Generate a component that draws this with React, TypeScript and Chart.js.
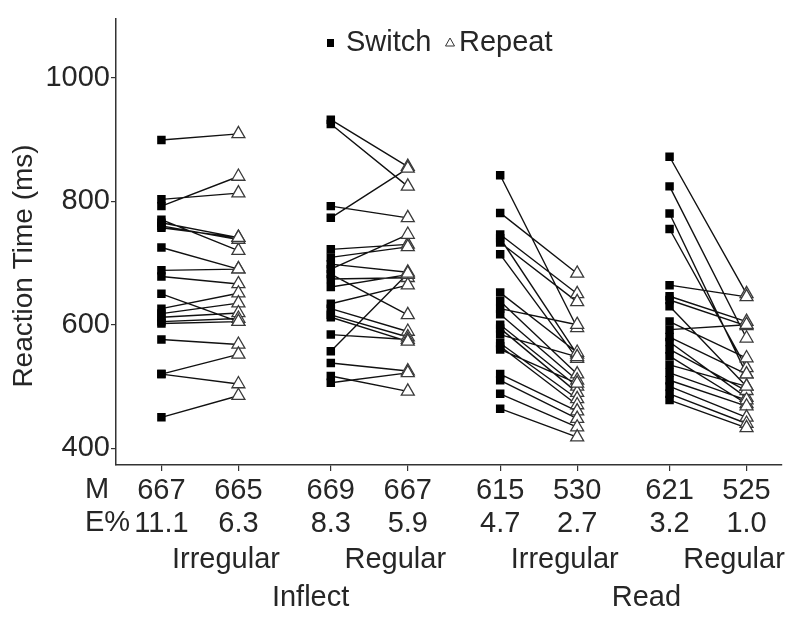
import React, { useEffect, useRef } from "react";
import { Chart, registerables } from "chart.js";

Chart.register(...registerables);

// ---- data ----
const xPositions = [1, 2, 3.2, 4.2, 5.4, 6.4, 7.6, 8.6];
const meanLabels = ["667", "665", "669", "667", "615", "530", "621", "525"];
const errorLabels = ["11.1", "6.3", "8.3", "5.9", "4.7", "2.7", "3.2", "1.0"];
const conditionLabels = ["Irregular", "Regular", "Irregular", "Regular"];
const taskLabels = ["Inflect", "Read"];
const yTickValues = [400, 600, 800, 1000];
const legendLabels = ["Switch", "Repeat"];

const inflectIrregularSwitch = [899, 803, 792, 770, 765, 760, 757, 725, 688, 678, 650, 626, 618, 612, 605, 602, 576, 520, 520, 450];
const inflectIrregularRepeat = [909, 813, 840, 720, 741, 738, 741, 690, 690, 666, 605, 651, 635, 619, 610, 605, 568, 552, 504, 485];

const inflectRegularSwitch = [932, 925, 792, 773, 722, 709, 690, 698, 682, 674, 661, 634, 626, 616, 584, 557, 538, 517, 506, 612];
const inflectRegularRepeat = [856, 824, 773, 853, 730, 726, 746, 685, 616, 676, 681, 664, 589, 580, 576, 683, 525, 492, 522, 573];

const readIrregularSwitch = [842, 781, 746, 740, 733, 714, 652, 638, 626, 617, 600, 594, 584, 570, 565, 560, 520, 510, 488, 464];
const readIrregularRepeat = [595, 683, 650, 552, 637, 545, 555, 520, 600, 510, 500, 490, 548, 480, 470, 505, 460, 448, 434, 418];

const readRegularSwitch = [872, 824, 780, 755, 664, 646, 640, 630, 605, 592, 580, 572, 560, 549, 535, 522, 510, 500, 488, 478];
const readRegularRepeat = [650, 578, 520, 530, 645, 605, 598, 500, 546, 600, 520, 482, 493, 472, 500, 478, 468, 450, 440, 433];

const groups = [
  [inflectIrregularSwitch, inflectIrregularRepeat],
  [inflectRegularSwitch, inflectRegularRepeat],
  [readIrregularSwitch, readIrregularRepeat],
  [readRegularSwitch, readRegularRepeat],
];

const FONT = "'Liberation Sans', Arial, sans-serif";
const TEXT = "#262626";

export default function App() {
  const ref = useRef<HTMLCanvasElement | null>(null);

  useEffect(() => {
    document.body.style.margin = "0";
    const canvas = ref.current;
    if (!canvas) return;

    const linePts: any[] = [];
    const sqPts: any[] = [];
    const triPts: any[] = [];
    groups.forEach(([sw, rp], g) => {
      const xs = xPositions[2 * g];
      const xr = xPositions[2 * g + 1];
      sw.forEach((v, i) => {
        linePts.push({ x: xs, y: v });
        linePts.push({ x: xr, y: rp[i] });
        linePts.push({ x: (xs + xr) / 2, y: null });
        sqPts.push({ x: xs, y: v });
        triPts.push({ x: xr, y: rp[i] });
      });
    });

    const textPlugin = {
      id: "extraText",
      afterDraw(chart: any) {
        const ctx = chart.ctx;
        const xs = chart.scales.x;
        ctx.save();
        ctx.fillStyle = TEXT;
        ctx.font = `29px ${FONT}`;
        ctx.textBaseline = "middle";
        ctx.textAlign = "left";
        ctx.fillText("M", 85, 490);
        ctx.fillText("E%", 85, 523);
        ctx.textAlign = "center";
        const centers: number[] = [];
        for (let g = 0; g < 4; g++) {
          const c = (xs.getPixelForValue(xPositions[2 * g]) + xs.getPixelForValue(xPositions[2 * g + 1])) / 2 + 26;
          centers.push(c);
          ctx.fillText(conditionLabels[g], c, 560);
        }
        ctx.fillText(taskLabels[0], (centers[0] + centers[1]) / 2, 598);
        ctx.fillText(taskLabels[1], (centers[2] + centers[3]) / 2 - 3, 598);

        // legend
        ctx.textAlign = "left";
        ctx.fillStyle = "#000";
        ctx.fillRect(327, 39, 7, 8);
        ctx.fillStyle = TEXT;
        ctx.fillText(legendLabels[0], 346, 43);
        ctx.beginPath();
        ctx.moveTo(450, 38);
        ctx.lineTo(454.5, 46);
        ctx.lineTo(445.5, 46);
        ctx.closePath();
        ctx.strokeStyle = "#333";
        ctx.lineWidth = 1;
        ctx.stroke();
        ctx.fillText(legendLabels[1], 459, 43);

        // y title
        ctx.translate(24, 266);
        ctx.rotate(-Math.PI / 2);
        ctx.textAlign = "center";
        ctx.font = `28px ${FONT}`;
        ctx.fillText("Reaction Time (ms)", 0, 0);
        ctx.restore();
      },
    };

    const chart = new Chart(canvas, {
      type: "scatter",
      data: {
        datasets: [
          {
            data: triPts,
            pointStyle: "triangle",
            pointRadius: 7.5,
            pointBackgroundColor: "#fff",
            pointBorderColor: "#3a3a3a",
            pointBorderWidth: 1.3,
            order: 0,
          } as any,
          {
            data: sqPts,
            pointStyle: "rect",
            pointRadius: 6,
            pointBackgroundColor: "#000",
            pointBorderColor: "#000",
            pointBorderWidth: 0,
            order: 1,
          } as any,
          {
            data: linePts,
            showLine: true,
            spanGaps: false,
            borderColor: "#111",
            borderWidth: 1.4,
            pointRadius: 0,
            order: 2,
          } as any,
        ],
      },
      options: {
        animation: false,
        responsive: false,
        maintainAspectRatio: false,
        layout: { padding: { top: 13, left: 0, right: 0, bottom: 0 } },
        plugins: { legend: { display: false }, tooltip: { enabled: false } },
        scales: {
          x: {
            type: "linear",
            min: 0.41,
            max: 9.05,
            afterBuildTicks: (s: any) => {
              s.ticks = xPositions.map((v) => ({ value: v }));
            },
            afterFit: (s: any) => {
              s.height = 161;
            },
            grid: { display: true, drawOnChartArea: false, drawTicks: true, tickLength: 6, color: "#333", lineWidth: 1.2 },
            border: { display: true, color: "#333", width: 1.5 },
            ticks: {
              autoSkip: false,
              maxRotation: 0,
              padding: 3,
              color: TEXT,
              font: { family: FONT, size: 29, lineHeight: 1.14 },
              callback: (val: any) => {
                const i = xPositions.findIndex((p) => Math.abs(p - Number(val)) < 0.01);
                return i >= 0 ? [meanLabels[i], errorLabels[i]] : "";
              },
            },
          },
          y: {
            type: "linear",
            min: 372.8,
            max: 1096,
            afterBuildTicks: (s: any) => {
              s.ticks = yTickValues.map((v) => ({ value: v }));
            },
            afterFit: (s: any) => {
              s.width = 116;
            },
            grid: { display: true, drawOnChartArea: false, drawTicks: true, tickLength: 5, color: "#333", lineWidth: 1.2 },
            border: { display: true, color: "#333", width: 1.5 },
            ticks: {
              padding: 1,
              color: TEXT,
              font: { family: FONT, size: 29 },
              callback: (val: any) => String(val),
            },
          },
        },
      },
      plugins: [textPlugin],
    });

    return () => chart.destroy();
  }, []);

  return <canvas ref={ref} width={790} height={626} style={{ display: "block" }} />;
}
